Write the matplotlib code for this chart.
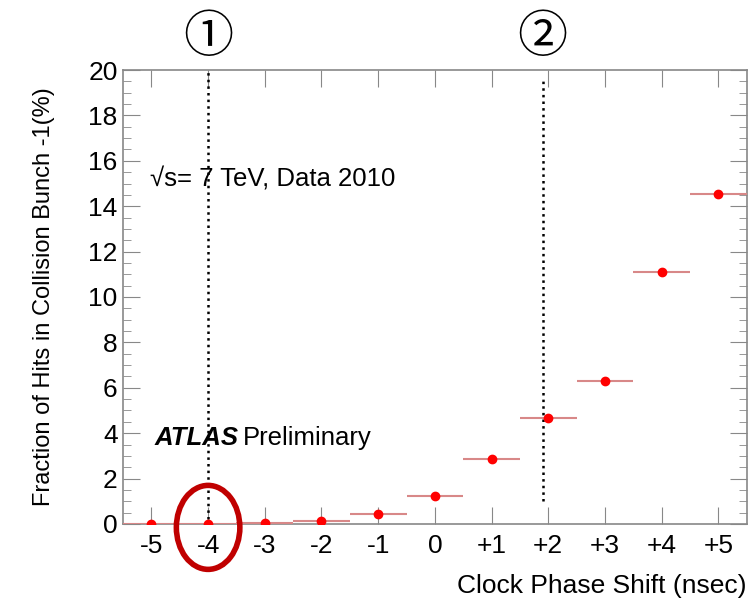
import matplotlib
matplotlib.use('Agg')
from matplotlib import pyplot as plt
from matplotlib.patches import Ellipse
from matplotlib.ticker import MultipleLocator

plt.rcParams['font.family'] = ['Liberation Sans', 'DejaVu Sans']

phase_shift = [-5, -4, -3, -2, -1, 0, 1, 2, 3, 4, 5]
fraction = [0.0, 0.0, 0.05, 0.15, 0.45, 1.25, 2.85, 4.67, 6.3, 11.1, 14.55]
bin_half_width = [0.5] * len(phase_shift)
tick_labels = ['-5', '-4', '-3', '-2', '-1', '0', '+1', '+2', '+3', '+4', '+5']
marker_lines = [-4, 1.9]
marker_names = ['\u2460', '\u2461']

fig = plt.figure(figsize=(7.55, 6.02), dpi=100)
ax = fig.add_axes([0.163, 0.1296, 0.826, 0.7541])

ax.errorbar(phase_shift, fraction, xerr=bin_half_width, fmt='o', color='red',
            ecolor='#d88888', elinewidth=1.5, markersize=6, capsize=0, zorder=3)

ax.set_xlim(-5.5, 5.5)
ax.set_ylim(0, 20)
ax.set_xticks(phase_shift)
ax.set_xticklabels(tick_labels)
ax.yaxis.set_major_locator(MultipleLocator(2))
ax.yaxis.set_minor_locator(MultipleLocator(0.5))
ax.tick_params(axis='both', which='both', direction='in', top=True, right=True,
               color='#888888', labelsize=19)
ax.tick_params(axis='y', which='major', length=12, pad=4)
ax.tick_params(axis='y', which='minor', length=6)
ax.tick_params(axis='x', which='major', length=12, pad=7)
for s in ax.spines.values():
    s.set_color('#888888')
    s.set_linewidth(1.2)

ax.set_ylabel('Fraction of Hits in Collision Bunch -1(%)', fontsize=17, labelpad=24)
ax.set_xlabel('Clock Phase Shift (nsec)', fontsize=19, loc='right', labelpad=12)

ax.text(0.043, 0.758, '\u221as= 7 TeV, Data 2010', transform=ax.transAxes,
        fontsize=18.5, va='center')
ax.text(0.051, 0.19, 'ATLAS', transform=ax.transAxes, fontsize=18.5,
        fontweight='bold', fontstyle='italic', va='center')
ax.text(0.192, 0.19, 'Preliminary', transform=ax.transAxes, fontsize=18.5, va='center')

# dotted markers with circled labels
ax.plot([marker_lines[0]] * 2, [0.2, 19.9], ls=':', color='black', lw=1.8, clip_on=False)
ax.plot([marker_lines[1]] * 2, [1.0, 19.5], ls=':', color='black', lw=1.8, clip_on=False)
for xv, name in zip(marker_lines, marker_names):
    ax.text(xv, 21.4, name, fontsize=36, ha='center', va='center',
            family=['Noto Sans CJK JP', 'DejaVu Sans'], clip_on=False)

ax.add_patch(Ellipse((-4, -0.15), 1.12, 3.7, fill=False, edgecolor='#c00000',
                     lw=4, clip_on=False, zorder=5))

fig.savefig('out.png', dpi=100)
